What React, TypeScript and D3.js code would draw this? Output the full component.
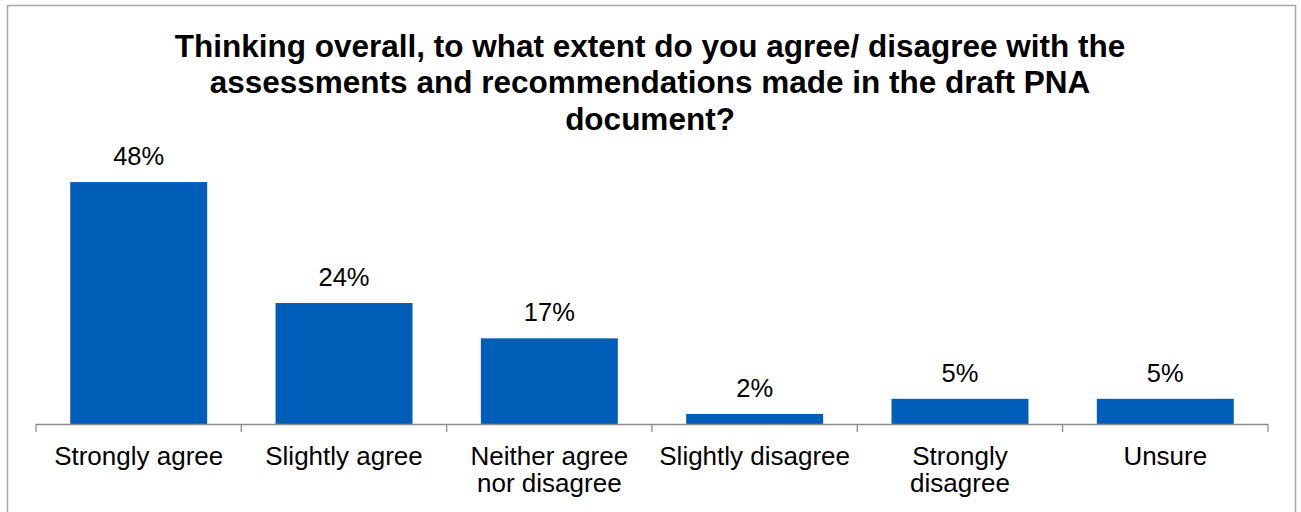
import React from "react";
import * as d3 from "d3";

const title = [
  "Thinking overall, to what extent do you agree/ disagree with the",
  "assessments and recommendations made in the draft PNA",
  "document?",
];
const categories = [
  "Strongly agree",
  "Slightly agree",
  "Neither agree\nnor disagree",
  "Slightly disagree",
  "Strongly\ndisagree",
  "Unsure",
];
const values = [0.48, 0.24, 0.17, 0.02, 0.05, 0.05];

const W = 1301;
const H = 512;

export default function App() {
  const x = d3
    .scaleBand<string>()
    .domain(categories)
    .range([36, 1268])
    .paddingInner(0.333)
    .paddingOuter(0.1667);
  const step = x.step();
  const y = d3.scaleLinear().domain([0, 0.5]).range([424, 172]);
  const fmt = d3.format(".0%");
  const font = "'Liberation Sans', Arial, sans-serif";
  const tickXs = categories.map((c) => (x(c) as number) - step * 0.1667);
  tickXs.push(1268);

  return (
    <svg
      width={W}
      height={H}
      style={{ position: "absolute", left: 0, top: 0, background: "#fff" }}
      fontFamily={font}
    >
      <rect x={7.5} y={5.5} width={1288} height={520} fill="#fff" stroke="#a6a6a6" strokeWidth={1.5} />
      {title.map((t, i) => (
        <text
          key={i}
          x={650}
          y={56.7 + i * 36.6}
          textAnchor="middle"
          fontSize={31.5}
          fontWeight="bold"
          fill="#000"
        >
          {t}
        </text>
      ))}
      {categories.map((c, i) => (
        <g key={c}>
          <rect
            x={x(c)}
            y={y(values[i])}
            width={x.bandwidth()}
            height={y(0) - y(values[i])}
            fill="#005EB8"
          />
          <text
            x={(x(c) as number) + x.bandwidth() / 2}
            y={y(values[i]) - 17}
            textAnchor="middle"
            fontSize={25.5}
            fill="#000"
          >
            {fmt(values[i])}
          </text>
          {c.split("\n").map((line, j) => (
            <text
              key={j}
              x={(x(c) as number) + x.bandwidth() / 2}
              y={465 + j * 26.5}
              textAnchor="middle"
              fontSize={26}
              fill="#000"
            >
              {line}
            </text>
          ))}
        </g>
      ))}
      <line x1={36} x2={1268} y1={424.5} y2={424.5} stroke="#8c8c8c" strokeWidth={1.3} />
      {tickXs.map((tx, i) => (
        <line key={i} x1={tx} x2={tx} y1={424} y2={432} stroke="#8c8c8c" strokeWidth={1.3} />
      ))}
    </svg>
  );
}
